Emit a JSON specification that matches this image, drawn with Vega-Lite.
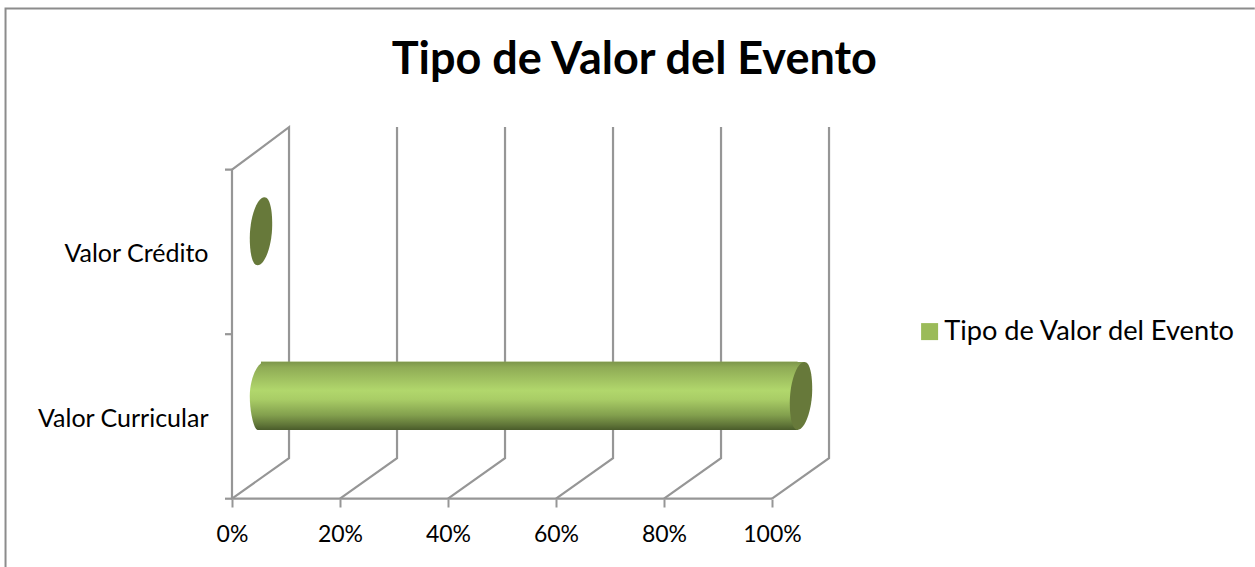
{
"$schema":"https://vega.github.io/schema/vega-lite/v6.json",
"width":1255,"height":567,"autosize":"none","padding":0,"background":"white",
"config":{"view":{"stroke":null}},
"datasets":{
"frameL":[{"id":"l","n":1,"x":-41.94,"y":-0.415},{"id":"l","n":2,"x":-41.94,"y":2.98},{"id":"l","n":3,"x":189.4,"y":2.98}],
"bars":[{"cat":"Valor Curricular","serie":"Tipo de Valor del Evento","start":5.37,"end":105.37,"bodyEnd":104.74,"lo":0.418,"hi":0.832,"mid":0.625},{"cat":"Valor Crédito","serie":"Tipo de Valor del Evento","start":5.37,"end":5.37,"bodyEnd":5.37,"lo":1.418,"hi":1.832,"mid":1.626}],
"grid":[
{"id":"a","n":1,"x":0,"y":2},{"id":"a","n":2,"x":10.56,"y":2.259},{"id":"a","n":3,"x":10.56,"y":0.247},{"id":"a","n":4,"x":0,"y":0},
{"id":"b","n":1,"x":-1.3,"y":2},{"id":"b","n":2,"x":0,"y":2},{"id":"b","n":3,"x":0,"y":0},{"id":"b","n":4,"x":100,"y":0},
{"id":"t1","n":1,"x":-1.3,"y":1},{"id":"t1","n":2,"x":0,"y":1},
{"id":"t0","n":1,"x":-1.3,"y":0},{"id":"t0","n":2,"x":0,"y":0},
{"id":"g20","n":1,"x":20,"y":0},{"id":"g20","n":2,"x":30.56,"y":0.247},{"id":"g20","n":3,"x":30.56,"y":2.259},
{"id":"g40","n":1,"x":40,"y":0},{"id":"g40","n":2,"x":50.56,"y":0.247},{"id":"g40","n":3,"x":50.56,"y":2.259},
{"id":"g60","n":1,"x":60,"y":0},{"id":"g60","n":2,"x":70.56,"y":0.247},{"id":"g60","n":3,"x":70.56,"y":2.259},
{"id":"g80","n":1,"x":80,"y":0},{"id":"g80","n":2,"x":90.56,"y":0.247},{"id":"g80","n":3,"x":90.56,"y":2.259},
{"id":"g100","n":1,"x":100,"y":0},{"id":"g100","n":2,"x":110.56,"y":0.247},{"id":"g100","n":3,"x":110.56,"y":2.259}
],
"title":[{"label":"Tipo de Valor del Evento","x":74.5,"y":2.665}]
},
"layer":[
{"data":{"name":"frameL"},"mark":{"type":"line","stroke":"#8c8c8c","strokeWidth":2,"clip":false},
"encoding":{"x":{"field":"x","type":"quantitative","scale":{"domain":[-42.963,189.444],"range":[0,1255],"nice":false,"zero":false},
"axis":{"values":[0,20,40,60,80,100],"format":".0f","labelExpr":"datum.label + '%'","title":null,"domain":false,"grid":false,"tickSize":8,"tickColor":"#969696","tickWidth":2,"labelFont":"Lato","labelFontSize":23,"labelColor":"#000000","labelPadding":16,"offset":-68}},
"y":{"field":"y","type":"quantitative","scale":{"domain":[-0.4152,3.0316],"range":[567,0],"nice":false,"zero":false},
"axis":{"values":[0.49,1.493],"labelExpr":"datum.value < 1 ? 'Valor Curricular' : 'Valor Crédito'","title":null,"domain":false,"grid":false,"ticks":false,"labelFont":"Lato","labelFontSize":25,"labelColor":"#000000","labelPadding":24,"offset":-232}},
"order":{"field":"n","type":"quantitative"}}},
{"data":{"name":"grid"},"mark":{"type":"line","stroke":"#969696","strokeWidth":2.2,"strokeJoin":"miter"},
"encoding":{"x":{"field":"x","type":"quantitative"},"y":{"field":"y","type":"quantitative"},"detail":{"field":"id"},"order":{"field":"n","type":"quantitative"}}},
{"data":{"name":"bars"},"mark":{"type":"rect"},
"encoding":{"x":{"field":"start","type":"quantitative"},"x2":{"field":"bodyEnd"},"y":{"field":"lo","type":"quantitative"},"y2":{"field":"hi"},
"color":{"field":"serie","type":"nominal","scale":{"domain":["Tipo de Valor del Evento"],"range":["#9BBB59"]},
"legend":{"title":null,"orient":"none","legendX":916,"legendY":318,"symbolType":"square","symbolSize":289,"labelFont":"Lato","labelFontSize":27.2,"labelColor":"#000000","labelLimit":400,"symbolStrokeWidth":0,"labelOffset":1,"rowPadding":0}}}},
{"data":{"name":"bars"},"transform":[{"filter":"datum.end > datum.start"}],
"mark":{"type":"rect","fill":{"x1":0,"y1":0,"x2":0,"y2":1,"gradient":"linear","stops":[{"offset":0,"color":"#7d964b"},{"offset":0.08,"color":"#8fab55"},{"offset":0.42,"color":"#b1d76c"},{"offset":0.55,"color":"#a9cd66"},{"offset":0.78,"color":"#83a04e"},{"offset":0.92,"color":"#617739"},{"offset":1,"color":"#4a5c2b"}]}},
"encoding":{"x":{"field":"start","type":"quantitative"},"x2":{"field":"bodyEnd"},"y":{"field":"lo","type":"quantitative"},"y2":{"field":"hi"}}},
{"data":{"name":"bars"},"transform":[{"filter":"datum.end > datum.start"}],
"mark":{"type":"point","filled":true,"size":4624,"opacity":1,"shape":"M0.1,-1 C-0.1,-1 -0.33,-0.5 -0.33,0 C-0.33,0.5 -0.2,1 -0.1,1 L0.1,1 L0.1,-1 Z","fill":{"x1":0,"y1":0,"x2":0,"y2":1,"gradient":"linear","stops":[{"offset":0,"color":"#7d964b"},{"offset":0.08,"color":"#8fab55"},{"offset":0.42,"color":"#b1d76c"},{"offset":0.55,"color":"#a9cd66"},{"offset":0.78,"color":"#83a04e"},{"offset":0.92,"color":"#617739"},{"offset":1,"color":"#4a5c2b"}]}},
"encoding":{"x":{"field":"start","type":"quantitative"},"y":{"field":"mid","type":"quantitative"}}},
{"data":{"name":"bars"},"transform":[{"filter":"datum.end > datum.start"}],
"mark":{"type":"point","filled":true,"size":4624,"opacity":1,"shape":"M-0.2,-1 L0.1,-1 L0.1,-0.5 L-0.1,1 L-0.2,1 Z","fill":{"x1":0,"y1":0,"x2":0,"y2":1,"gradient":"linear","stops":[{"offset":0,"color":"#7d964b"},{"offset":0.08,"color":"#8fab55"},{"offset":0.42,"color":"#b1d76c"},{"offset":0.55,"color":"#a9cd66"},{"offset":0.78,"color":"#83a04e"},{"offset":0.92,"color":"#617739"},{"offset":1,"color":"#4a5c2b"}]}},
"encoding":{"x":{"field":"end","type":"quantitative"},"y":{"field":"mid","type":"quantitative"}}},
{"data":{"name":"bars"},
"mark":{"type":"point","filled":true,"size":4624,"opacity":1,"fill":"#67793a","stroke":null,"shape":"M0.1,-1 C0.27,-1 0.33,-0.6 0.33,-0.2 C0.33,0.4 0.12,1 -0.1,1 C-0.27,1 -0.33,0.6 -0.33,0.2 C-0.33,-0.4 -0.12,-1 0.1,-1 Z"},
"encoding":{"x":{"field":"end","type":"quantitative"},"y":{"field":"mid","type":"quantitative"}}},
{"data":{"name":"title"},"mark":{"type":"text","font":"Lato","fontWeight":"bold","fontSize":45,"color":"#000000","align":"center","baseline":"middle"},
"encoding":{"x":{"field":"x","type":"quantitative"},"y":{"field":"y","type":"quantitative"},"text":{"field":"label"}}}
]
}
